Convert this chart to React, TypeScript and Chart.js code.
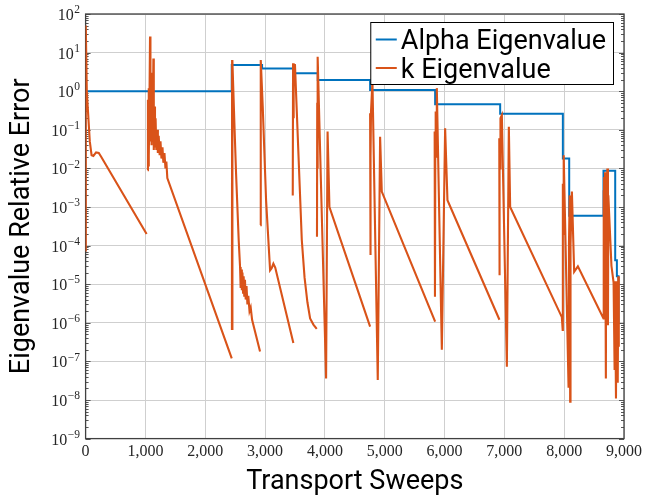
import { useEffect, useRef } from "react";
import { Chart, registerables } from "chart.js";

Chart.register(...registerables);

// Alpha eigenvalue relative error (step function: value changes at the given sweep)
const alphaSweeps = [0, 2443, 2950, 3473, 3881, 4756, 5843, 6930, 7978, 8084, 8657, 8853, 8881, 8908];
const alphaError = [1.0, 4.8, 3.9, 2.9, 1.95, 1.07, 0.46, 0.26, 0.018, 5.9e-4, 8.7e-3, 4.2e-5, 1.6e-5, 1.0e-6];

// k eigenvalue relative error (null = break between restarts)
const kSweeps = [
  0, 1, 3, 5, 20, 40, 70, 100, 130, 175, 220, 260, 1020, 1020,
  1038, 1042, 1047, 1053, 1059, 1066, 1077, 1084, 1094, 1103, 1112, 1120, 1133, 1140, 1150, 1160, 1170, 1182, 1195, 1208, 1222, 1238, 1252, 1268, 1285, 1300, 1318, 1335, 1350, 1366, 2443, 2443,
  2446, 2449, 2452, 2456, 2487, 2515, 2560, 2582, 2592, 2602, 2612, 2622, 2632, 2642, 2652, 2664, 2676, 2690, 2705, 2720, 2740, 2760, 2783, 2916, 2916,
  2920, 2924, 2928, 2932, 2961, 3017, 3084, 3110, 3139, 3170, 3473, 3473,
  3463, 3468, 3474, 3482, 3500, 3614, 3660, 3708, 3753, 3808, 3864, 3864,
  3868, 3872, 3876, 3882, 4020, 4045, 4076, 4756, 4756,
  4756, 4759, 4763, 4767, 4771, 4795, 4884, 4923, 4951, 5843, 5843,
  5835, 5840, 5846, 5852, 5860, 5871, 5955, 6010, 6049, 6918, 6918,
  6915, 6918, 6922, 6928, 6935, 6958, 7042, 7075, 7097, 7961, 7975,
  7978, 7982, 7987, 7992, 7997, 8073, 8080, 8092, 8100, 8106, 8129, 8167, 8229, 8657,
  8659, 8663, 8668, 8674, 8684, 8697, 8703, 8712, 8722, 8732, 8738, 8790, 8826, 8843, 8850, 8866, 8876, 8884, 8893, 8898, 8905, 8913,
];
const kError = [
  5, 7e-5, 3, 50, 1.0, 0.3, 0.05, 0.022, 0.021, 0.026, 0.025, 0.02, 2e-4, null,
  0.009, 0.6, 0.012, 1.2, 0.02, 0.3, 26, 0.05, 3, 0.04, 1.5, 0.05, 7, 0.03, 0.4, 0.035, 0.2, 0.03, 0.1, 0.025, 0.07, 0.022, 0.05, 0.018, 0.035, 0.014, 0.025, 0.01, 0.015, 0.0056, 1.2e-7, null,
  6.5e-7, 6.4, 6.5e-7, 6.0, 0.15, 7.5e-3, 1.3e-4, 2.8e-5, 8e-6, 2.4e-5, 7e-6, 2e-5, 6e-6, 1.6e-5, 5e-6, 1.3e-5, 4e-6, 9e-6, 3e-6, 5e-6, 2e-6, 2.5e-6, 1.2e-6, 1.8e-7, null,
  3.4e-4, 6.4, 0.05, 6.4, 0.4, 1.5e-3, 2.3e-5, 2.6e-5, 3.4e-5, 2.7e-5, 3e-7, null,
  2e-3, 5.3, 0.2, 5.0, 4.8, 1.4e-4, 1.5e-5, 3.4e-6, 1.3e-6, 9e-7, 7e-7, null,
  1.7e-4, 0.5, 0.01, 7.8, 3.6e-8, 0.09, 1e-3, 8e-7, null,
  0.27, 5.7e-5, 0.1, 0.02, 0.3, 1.8, 3.3e-8, 0.066, 2.5e-3, 1.07e-6, null,
  0.09, 4.7e-6, 0.05, 0.3, 0.02, 1.2, 2e-7, 0.11, 1.5e-3, 1.2e-6, null,
  0.06, 1.7e-5, 0.04, 0.01, 0.2, 0.24, 7.3e-8, 0.12, 1e-3, 1.4e-6, 6.5e-7,
  4e-3, 2e-4, 0.01, 1e-3, 0.022, 2.2e-8, 1.1e-4, 2e-3, 9e-9, 1.1e-4, 2.5e-3, 2.1e-5, 2.9e-5, 1.3e-6,
  2.7e-3, 1e-4, 6e-3, 3e-4, 8e-3, 3.6e-8, 1.8e-3, 1e-4, 0.01, 8.7e-7, 2e-3, 3e-5, 1.1e-5, 6e-8, 1.2e-5, 1.1e-8, 1.2e-5, 3e-8, 1e-6, 3e-8, 1.6e-5, 2.4e-7,
];

const xTickValues = [0, 1000, 2000, 3000, 4000, 5000, 6000, 7000, 8000, 9000];
const xTickLabels = ["0", "1,000", "2,000", "3,000", "4,000", "5,000", "6,000", "7,000", "8,000", "9,000"];
const yTickValues = [1e-9, 1e-8, 1e-7, 1e-6, 1e-5, 1e-4, 1e-3, 1e-2, 1e-1, 1e0, 1e1, 1e2];
const yTickBase = "10";
const yTickExponents = ["−9", "−8", "−7", "−6", "−5", "−4", "−3", "−2", "−1", "0", "1", "2"];

const seriesLabels = ["Alpha Eigenvalue", "k Eigenvalue"];
const seriesColors = ["#0072BD", "#D95319"];

const SANS = "Roboto, 'DejaVu Sans', sans-serif";
const SERIF = "'Liberation Serif', 'DejaVu Serif', serif";

export default function App() {
  const ref = useRef<HTMLCanvasElement>(null);

  useEffect(() => {
    document.body.style.margin = "0";
    const canvas = ref.current;
    if (!canvas) return;

    const decor = {
      id: "decor",
      beforeDatasetsDraw(chart: any) {
        const { ctx, chartArea: a, scales } = chart;
        const ys = scales.y;
        ctx.save();
        ctx.strokeStyle = "#555555";
        ctx.lineWidth = 1;
        for (let e = -9; e < 2; e++) {
          for (let k = 2; k <= 9; k++) {
            const py = Math.round(ys.getPixelForValue(k * Math.pow(10, e))) + 0.5;
            ctx.beginPath();
            ctx.moveTo(a.left, py);
            ctx.lineTo(a.left + 3, py);
            ctx.moveTo(a.right, py);
            ctx.lineTo(a.right - 3, py);
            ctx.stroke();
          }
        }
        for (const v of yTickValues) {
          const py = Math.round(ys.getPixelForValue(v)) + 0.5;
          ctx.beginPath();
          ctx.moveTo(a.left, py);
          ctx.lineTo(a.left + 5, py);
          ctx.moveTo(a.right, py);
          ctx.lineTo(a.right - 5, py);
          ctx.stroke();
        }
        ctx.strokeStyle = "#404040";
        ctx.lineWidth = 1.3;
        ctx.strokeRect(a.left, a.top, a.right - a.left, a.bottom - a.top);

        // y tick labels: "10" with a raised exponent
        ctx.fillStyle = "#262626";
        ctx.textBaseline = "alphabetic";
        ctx.textAlign = "left";
        yTickValues.forEach((v, i) => {
          const py = ys.getPixelForValue(v);
          ctx.font = `16px ${SERIF}`;
          const wb = ctx.measureText(yTickBase).width;
          ctx.font = `11.5px ${SERIF}`;
          const we = ctx.measureText(yTickExponents[i]).width;
          const x0 = a.left - 5.5 - we - wb - 0.5;
          ctx.font = `16px ${SERIF}`;
          ctx.fillText(yTickBase, x0, py + 6);
          ctx.font = `11.5px ${SERIF}`;
          ctx.fillText(yTickExponents[i], x0 + wb + 0.5, py - 0.8);
        });
        ctx.restore();
      },
      afterDraw(chart: any) {
        const { ctx, chartArea: a } = chart;
        const labels = chart.data.datasets.map((d: any) => d.label);
        const colors = chart.data.datasets.map((d: any) => d.borderColor);
        ctx.save();
        ctx.font = `27px ${SANS}`;
        const tw = Math.max(...labels.map((l: string) => ctx.measureText(l).width));
        const w = tw + 37.5;
        const right = a.right - 10.5;
        const left = right - w;
        const top = a.top + 8.5;
        const h = 62;
        ctx.fillStyle = "#ffffff";
        ctx.fillRect(left, top, w, h);
        ctx.strokeStyle = "#000000";
        ctx.lineWidth = 1;
        ctx.strokeRect(left, top, w, h);
        labels.forEach((l: string, i: number) => {
          const ly = top + 17 + i * 28.5;
          ctx.strokeStyle = colors[i];
          ctx.lineWidth = 2;
          ctx.beginPath();
          ctx.moveTo(left + 5, ly);
          ctx.lineTo(left + 26, ly);
          ctx.stroke();
          ctx.fillStyle = "#000000";
          ctx.textBaseline = "alphabetic";
          ctx.textAlign = "left";
          ctx.fillText(l, left + 30, ly + 9.5);
        });
        ctx.restore();
      },
    };

    const chart = new Chart(canvas, {
      type: "line",
      data: {
        datasets: [
          {
            label: seriesLabels[0],
            data: alphaSweeps.map((x, i) => ({ x, y: alphaError[i] })),
            borderColor: seriesColors[0],
            backgroundColor: seriesColors[0],
            borderWidth: 2,
            pointRadius: 0,
            stepped: true,
            fill: false,
            order: 1,
          },
          {
            label: seriesLabels[1],
            data: kSweeps.map((x, i) => ({ x, y: kError[i] as any })),
            borderColor: seriesColors[1],
            backgroundColor: seriesColors[1],
            borderWidth: 2.1,
            pointRadius: 0,
            spanGaps: false,
            tension: 0,
            fill: false,
            order: 0,
          },
        ],
      },
      options: {
        responsive: false,
        animation: false,
        events: [],
        layout: { padding: { left: 0, right: 22, top: 14, bottom: 0 } },
        plugins: { legend: { display: false }, tooltip: { enabled: false } },
        scales: {
          x: {
            type: "linear",
            min: 0,
            max: 9000,
            afterFit: (s: any) => {
              s.height = 57.4;
            },
            afterBuildTicks: (s: any) => {
              s.ticks = xTickValues.map((v) => ({ value: v }));
            },
            ticks: {
              padding: 4,
              autoSkip: false,
              maxRotation: 0,
              color: "#262626",
              font: { family: SERIF, size: 16 },
              callback: (v: any) => {
                const i = xTickValues.indexOf(Number(v));
                return i >= 0 ? xTickLabels[i] : "";
              },
            },
            grid: { color: "#cfcfcf", lineWidth: 1, drawTicks: false },
            border: { display: false },
            title: {
              display: true,
              text: "Transport Sweeps",
              color: "#000000",
              font: { family: SANS, size: 27, lineHeight: 1.05 },
              padding: { top: 1, bottom: 0 },
            },
          },
          y: {
            type: "logarithmic",
            min: 1e-9,
            max: 100,
            afterFit: (s: any) => {
              s.width = 85.6;
            },
            afterBuildTicks: (s: any) => {
              s.ticks = yTickValues.map((v) => ({ value: v }));
            },
            ticks: { display: false },
            grid: { color: "#cfcfcf", lineWidth: 1, drawTicks: false },
            border: { display: false },
            title: {
              display: true,
              text: "Eigenvalue Relative Error",
              color: "#000000",
              font: { family: SANS, size: 27, lineHeight: 1.2 },
              padding: { top: 6.3, bottom: 0 },
            },
          },
        },
      },
      plugins: [decor],
    });

    return () => chart.destroy();
  }, []);

  return (
    <div style={{ width: 646, height: 496 }}>
      <canvas ref={ref} width={646} height={496} style={{ display: "block" }} />
    </div>
  );
}
